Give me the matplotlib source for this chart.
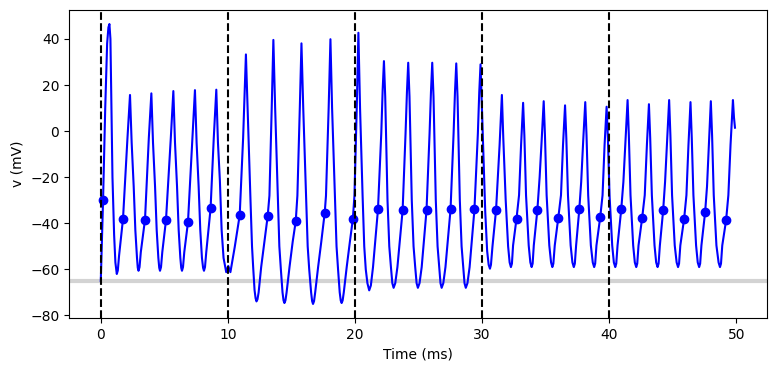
import numpy as np
import matplotlib
matplotlib.use("Agg")
import matplotlib.pyplot as plt

# membrane voltage trace, one spike cycle per line
trace_t = [
    0.0, 0.05, 0.18, 0.35, 0.5, 0.6, 0.68, 0.76, 0.92, 1.05, 1.15,
    1.26, 1.34, 1.44, 1.75, 2.1, 2.3, 2.43, 2.59, 2.72, 2.85, 2.91,
    2.97, 3.05, 3.15, 3.48, 3.78, 3.98, 4.11, 4.27, 4.4, 4.53, 4.60,
    4.66, 4.74, 4.84, 5.13, 5.51, 5.71, 5.84, 6.0, 6.13, 6.26, 6.33,
    6.39, 6.47, 6.57, 6.86, 7.21, 7.41, 7.54, 7.70, 7.83, 7.96, 8.05,
    8.12, 8.20, 8.30, 8.64, 8.89, 9.09, 9.22, 9.37, 9.51, 9.66, 9.87, 10.03,
    10.2, 10.54, 10.93, 11.2, 11.42, 11.55, 11.78, 11.9, 11.99, 12.1, 12.18,
    12.25, 12.33, 12.42, 12.62, 12.9, 13.13, 13.27, 13.45, 13.58, 13.72, 13.93, 14.05, 14.17, 14.3, 14.38,
    14.45, 14.53, 14.62, 14.85, 15.1, 15.34, 15.47, 15.66, 15.79, 15.93, 16.15, 16.28, 16.4, 16.55, 16.63,
    16.7, 16.78, 16.87, 17.1, 17.35, 17.62, 17.72, 17.93, 18.07, 18.2, 18.42, 18.55, 18.67, 18.8, 18.88,
    18.95, 19.03, 19.12, 19.35, 19.6, 19.83, 19.96, 20.14, 20.27, 20.4, 20.6, 20.73, 20.85, 20.98,
    21.12, 21.25, 21.42, 21.81, 22.07, 22.18, 22.28, 22.38, 22.56, 22.7, 22.83, 22.94,
    23.04, 23.17, 23.34, 23.75, 23.98, 24.09, 24.19, 24.29, 24.47, 24.61, 24.74, 24.85,
    24.95, 25.08, 25.25, 25.63, 25.87, 25.98, 26.08, 26.18, 26.36, 26.5, 26.63, 26.73,
    26.82, 26.95, 27.12, 27.52, 27.76, 27.87, 27.97, 28.07, 28.25, 28.39, 28.52, 28.62,
    28.72, 28.85, 29.02, 29.4, 29.67, 29.78, 29.88, 29.98, 30.11, 30.25, 30.4, 30.52,
    30.62, 30.70, 30.82, 31.1, 31.38, 31.56, 31.67, 31.86, 32.05, 32.17,
    32.27, 32.35, 32.44, 32.71, 32.91, 33.07, 33.23, 33.33, 33.46, 33.67, 33.80,
    33.9, 33.98, 34.07, 34.35, 34.53, 34.69, 34.85, 34.95, 35.08, 35.29, 35.43,
    35.53, 35.61, 35.72, 36.0, 36.21, 36.37, 36.53, 36.63, 36.76, 36.97, 37.11,
    37.22, 37.30, 37.4, 37.65, 37.8, 37.96, 38.12, 38.22, 38.35, 38.56, 38.71,
    38.82, 38.90, 39.0, 39.3, 39.48, 39.64, 39.8, 39.9, 40.03, 40.24, 40.37,
    40.48, 40.56, 40.66, 40.95, 41.12, 41.29, 41.45, 41.55, 41.68, 41.89, 42.02,
    42.13, 42.21, 42.31, 42.6, 42.8, 42.97, 43.13, 43.23, 43.36, 43.57, 43.70,
    43.81, 43.89, 43.99, 44.25, 44.4, 44.56, 44.72, 44.82, 44.95, 45.16, 45.31,
    45.42, 45.50, 45.6, 45.9, 46.08, 46.24, 46.4, 46.5, 46.63, 46.84, 46.97,
    47.08, 47.16, 47.26, 47.55, 47.7, 47.85, 48.0, 48.1, 48.23, 48.44, 48.61,
    48.72, 48.80, 48.9, 49.2, 49.38, 49.55, 49.74, 49.82, 49.9,
]
trace_v = [
    -65, -55, -30, 10, 38, 45, 46.5, 40, -20, -45, -57,
    -62, -60.5, -54, -38, -3, 15.7, -5, -24, -43, -55, -59.3,
    -60.6, -59, -52.5, -38.4, -3, 16.4, -5, -24, -43, -55, -59.3,
    -60.6, -59, -52.5, -38.7, -3, 17.4, -5, -24, -43, -55, -59.3,
    -60.6, -59, -52.5, -39.6, -3, 17.8, -5, -24, -43, -55, -59.3,
    -60.6, -59, -52.5, -33.5, -3, 18.0, -5, -21.3, -43, -55, -61.2, -58.5,
    -61.2, -50.3, -36.5, -3, 33.3, 10, -30, -50, -59, -69, -72.5,
    -73.9, -73, -70, -59, -47, -37, -28, 10, 39.6, 10, -28, -50, -60, -70, -73.5,
    -74.6, -73.5, -70, -59, -48, -39.1, -28, 10, 38.1, 10, -28, -50, -60, -70, -73.8,
    -75, -73.8, -70, -59, -48, -35.4, -28, 10, 39.9, 10, -28, -50, -60, -70, -73.5,
    -74.6, -73.5, -70, -59, -48, -38.3, -28, 10, 42.7, 10, -28, -50, -60, -66,
    -69.1, -67, -59, -34, -1, 18, 30.4, 15, -30, -50, -59, -66,
    -68, -66, -59, -34.3, -1, 17, 29.7, 15, -30, -50, -59, -66,
    -68, -66, -59, -34.3, -1, 17, 29.7, 15, -30, -50, -59, -66,
    -68, -66, -59, -34, -1, 17, 29.4, 15, -30, -50, -59, -66,
    -68, -66, -59, -34, -1, 17, 29.0, 12, -10.4, -35, -52, -58,
    -59.7, -58, -50, -34.3, -6, 15.7, -3, -30, -50, -57,
    -59, -57.5, -49.6, -38, -27.8, -6, 12.3, -2, -27.8, -49.6, -57,
    -59, -57.5, -49.6, -34.3, -20, -4, 13, -2, -27.8, -49.6, -57,
    -59, -57.5, -49.6, -37.5, -27.8, -6, 11.2, -3, -27.8, -49.6, -57,
    -59, -57.5, -49.6, -34, -22, -4, 12.6, -2, -27.8, -49.6, -57,
    -59, -57.5, -49.6, -37.2, -27.8, -6, 10.6, -3, -27.8, -49.6, -57,
    -59, -57.5, -49.6, -34, -22, -4, 13.5, -2, -27.8, -49.6, -57,
    -59, -57.5, -49.6, -37.5, -27.8, -6, 11.7, -3, -27.8, -49.6, -57,
    -59, -57.5, -49.6, -34.3, -22, -4, 13.5, -2, -27.8, -49.6, -57,
    -59, -57.5, -49.6, -38, -27.8, -6, 12.6, -3, -27.8, -49.6, -57,
    -59, -57.5, -49.6, -35.2, -24, -5, 13, -2, -27.8, -49.6, -57,
    -59, -57.5, -49.6, -38.7, -27.8, -6, 13.5, 6, 1.5,
]

# detected spikes (dots)
spike_t = [0.18, 1.75, 3.48, 5.13, 6.86, 8.64, 10.93, 13.13, 15.34, 17.62,
           19.83, 21.81, 23.75, 25.63, 27.52, 29.4, 31.1, 32.71, 34.35, 36.0,
           37.65, 39.3, 40.95, 42.6, 44.25, 45.9, 47.55, 49.2]
spike_v = [-30, -38, -38.4, -38.7, -39.6, -33.5, -36.5, -37, -39.1, -35.4,
           -38.3, -34, -34.3, -34.3, -34, -34, -34.3, -38, -34.3, -37.5,
           -34, -37.2, -34, -37.5, -34.3, -38, -35.2, -38.7]

stim_times = [0, 10, 20, 30, 40]
v_rest = -65

fig, ax = plt.subplots(figsize=(7.76, 3.71), dpi=100)
fig.subplots_adjust(left=0.089, right=0.988, top=0.973, bottom=0.143)

ax.axhline(v_rest, color='lightgray', lw=3, zorder=1)
ax.plot(trace_t, trace_v, 'b')
ax.plot(spike_t, spike_v, 'bo')
for ts in stim_times:
    ax.axvline(ts, ls='--', color='k')

ax.set_xlabel('Time (ms)')
ax.set_ylabel('v (mV)')

fig.savefig('out.png')
